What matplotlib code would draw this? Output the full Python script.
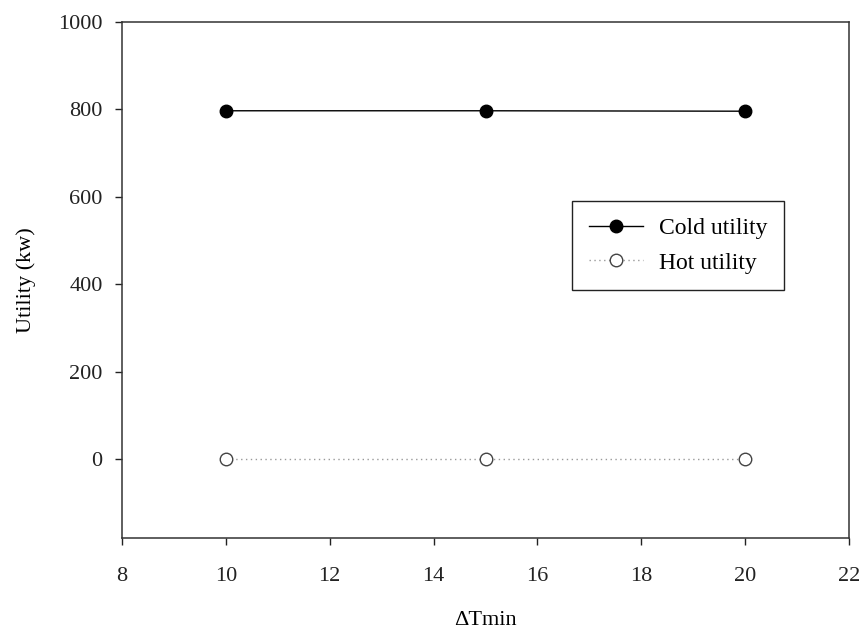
import numpy as np
import matplotlib
matplotlib.use("Agg")
import matplotlib.pyplot as plt

# data
dtmin = [10, 15, 20]
cold_utility = [797, 797, 796]
hot_utility = [0, 0, 0]

x_ticks = [8, 10, 12, 14, 16, 18, 20, 22]
y_ticks = [0, 200, 400, 600, 800, 1000]

FONT = ["Liberation Serif", "DejaVu Serif"]
FONTSIZE_TICKS = 16
FONTSIZE_LABELS = 16
FONTSIZE_LEGEND = 17

plt.rcParams["font.family"] = FONT

fig = plt.figure(figsize=(8.63, 6.3), dpi=100)
ax = fig.add_axes([122 / 863, 1 - 538 / 630, (849 - 122) / 863, (538 - 22) / 630])

ax.plot(dtmin, cold_utility, color="black", lw=1.0, marker="o",
        markersize=9, markerfacecolor="black", markeredgecolor="black",
        label="Cold utility")
ax.plot(dtmin, hot_utility, color="#999999", lw=1.0, ls=(0, (1, 2.5)),
        marker="o", markersize=9, markerfacecolor="white",
        markeredgecolor="#444444", markeredgewidth=1.0,
        label="Hot utility")

ax.set_xlim(8, 22)
ax.set_ylim(-180, 1000)
ax.set_xticks(x_ticks)
ax.set_yticks(y_ticks)
ax.tick_params(direction="out", length=5, width=1, labelsize=FONTSIZE_TICKS,
               colors="#222222", pad=9)
ax.tick_params(axis="x", pad=16)
for s in ax.spines.values():
    s.set_linewidth(1.1)
    s.set_color("#333333")

ax.set_xlabel("ΔTmin", fontsize=FONTSIZE_LABELS, labelpad=18)
ax.set_ylabel("Utility (kw)", fontsize=FONTSIZE_LABELS, labelpad=16)

leg = ax.legend(loc="upper left", bbox_to_anchor=((572 - 122) / 727, 1 - (201 - 22) / 516),
                fontsize=FONTSIZE_LEGEND, frameon=True, fancybox=False,
                edgecolor="#222222", framealpha=1, handlelength=2.3,
                borderpad=0.7, labelspacing=0.55, handletextpad=0.7,
                borderaxespad=0)
leg.get_frame().set_linewidth(1.0)

fig.savefig("out.png", dpi=100)
